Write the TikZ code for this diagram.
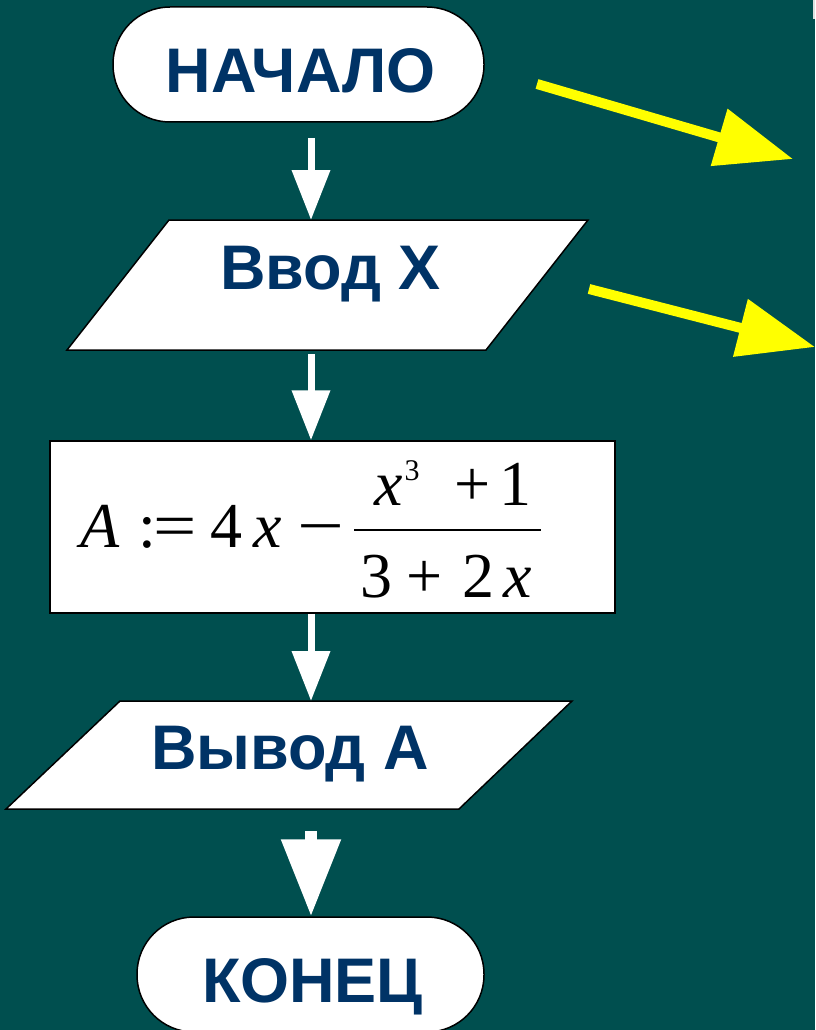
\documentclass[tikz,border=0pt]{standalone}
\usepackage{fontspec}
\setmainfont{Liberation Serif}
\newfontfamily\lblfont{Liberation Sans}
\usepackage{graphicx}
\usetikzlibrary{arrows.meta}
\definecolor{bgteal}{HTML}{004F4F}
\definecolor{navy}{HTML}{003366}
\definecolor{yel}{HTML}{FFFF00}
\tikzset{
 term/.style={draw=black, fill=white, line width=1.5pt, rounded corners=57pt, inner sep=0pt},
 proc/.style={draw=black, fill=white, line width=1.5pt, inner sep=0pt},
 io/.style={draw=black, fill=white, line width=1.5pt},
 lbl/.style={font=\lblfont\bfseries\fontsize{63}{70}\selectfont, text=navy, inner sep=0pt, anchor=base},
 fml/.style={font=\fontsize{64}{70}\selectfont, text=black, inner sep=0pt, anchor=base},
 fsup/.style={font=\fontsize{30}{33}\selectfont, text=black, inner sep=0pt, anchor=base},
 warrow/.style={draw=white, line width=7pt, -{Triangle[length=50pt,width=37pt]}},
 bigwarrow/.style={draw=white, line width=12pt, -{Triangle[length=77pt,width=57pt]}},
 yarrow/.style={draw=yel, line width=10pt, -{Triangle[length=77pt,width=57pt]}},
}
\begin{document}
\begin{tikzpicture}[x=1pt,y=-1pt]
\fill[bgteal] (0,0) rectangle (815,1030);
\useasboundingbox (0,0) rectangle (815,1030);
\clip (0,0) rectangle (815,1030);
\fill[gray!25] (812.5,0) rectangle (815,19);

% start terminal
\node[term, minimum width=371pt, minimum height=115pt] (start) at (298.5,64.5) {};
\node[lbl] (startT) at (300.5,93) {НАЧАЛО};

% input parallelogram
\draw[io] (169,220) -- (588,220) -- (486,350) -- (67,350) -- cycle;
\coordinate (inTop) at (311,220);
\coordinate (inBot) at (311,350);
\node[lbl] (inT) at (330.5,289) {Ввод X};

% process box
\node[proc, minimum width=565pt, minimum height=172pt] (box) at (332.5,527) {};
\node[fml] (fA) at (100,547) {\itshape A};
\node[fml] (fcol) at (147.5,547) {:};
\node[fml] (feq) at (175,547) {\scalebox{1.2}[1]{=}};
\node[fml] (f4) at (226.5,547) {4};
\node[fml] (fx) at (268,547) {\itshape x};
\node[fml] (fmin) at (321,547) {\scalebox{1.3}[1]{−}};
\draw[line width=2.8pt] (354,530) -- (541,530);
\node[fml] (nx) at (388.5,505) {\itshape x};
\node[fsup] (n3) at (412,480) {3};
\node[fml] (nplus) at (472.5,505) {+};
\node[fml] (n1) at (515.5,505) {1};
\node[fml] (d3) at (376,597) {3};
\node[fml] (dplus) at (424.5,597) {+};
\node[fml] (d2) at (478.5,597) {2};
\node[fml] (dx) at (518,597) {\itshape x};

% output parallelogram
\draw[io] (120,701) -- (572,701) -- (459,809) -- (6,809) -- cycle;
\coordinate (outTop) at (311,701);
\coordinate (outBot) at (311,809);
\node[lbl] (outT) at (290,769) {Вывод А};

% stop terminal
\node[term, minimum width=347pt, minimum height=115pt] (stop) at (310.5,974.5) {};
\node[lbl] (stopT) at (312.5,1002) {КОНЕЦ};

% white arrows
\draw[warrow, shorten <=15pt] (start.south -| inTop) -- (inTop);
\draw[warrow, shorten <=4pt] (inBot) -- (box.north -| inBot);
\draw[warrow] (box.south -| outTop) -- (outTop);
\draw[bigwarrow, shorten <=22pt] (outBot) -- (stop.north -| outBot);

% yellow arrows
\coordinate (y1s) at (537,84);
\coordinate (y1e) at (793,159);
\coordinate (y2s) at (589,289);
\coordinate (y2e) at (815,347);
\draw[yarrow] (y1s) -- (y1e);
\draw[yarrow] (y2s) -- (y2e);
\end{tikzpicture}
\end{document}
